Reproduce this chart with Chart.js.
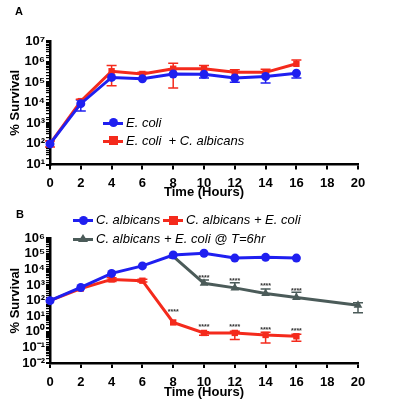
<!DOCTYPE html>
<html lang="en">
<head>
    <meta charset="UTF-8">
    <title>% Survival</title>
    <script src="https://cdn.jsdelivr.net/npm/chart.js"></script>
    <style>
        body {
            margin: 0;
            background: #fff;
            font-family: "Liberation Sans", Arial, sans-serif;
        }
        #page {
            position: relative;
            width: 400px;
            height: 410px;
            overflow: hidden;
        }
        canvas {
            position: absolute;
            left: 0;
        }
        .panel {
            position: absolute;
            font-weight: bold;
            font-size: 11px;
        }
        .row {
            position: absolute;
            height: 16px;
            line-height: 16px;
            font-size: 13px;
            font-style: italic;
            white-space: pre;
        }
        .sym {
            position: absolute;
            width: 20px;
            height: 3px;
            top: 7px;
        }
        .sym i {
            position: absolute;
            left: 5.5px;
            top: -3.5px;
            width: 9px;
            height: 9px;
        }
        .circle i { border-radius: 50%; }
        .tri i {
            width: 0;
            height: 0;
            background: none !important;
            left: 5px;
            top: -4px;
            border-left: 5px solid transparent;
            border-right: 5px solid transparent;
            border-bottom: 8px solid;
        }
        .txt {
            position: absolute;
            top: 0;
        }
    </style>
</head>
<body>
<div id="page">
    <canvas id="chartA" width="400" height="200" style="top:0"></canvas>
    <canvas id="chartB" width="400" height="210" style="top:200px"></canvas>
    <div class="panel" style="left:15px;top:5px">A</div>
    <div class="panel" style="left:16px;top:208px">B</div>
    <div id="legends"></div>
</div>

<script>
    // panel A
    const hoursA = [0, 2, 4, 6, 8, 10, 12, 14, 16];
    const eColi    = [100, 9000, 170000, 145000, 250000, 240000, 160000, 190000, 270000];
    const eColiLo  = [null, 4000, null, null, null, 160000, 100000, 90000, 160000];
    const eColiHi  = [null, 13500, null, null, null, null, null, null, null];
    const eColiCa   = [100, 12000, 340000, 250000, 450000, 450000, 300000, 300000, 780000];
    const eColiCaLo = [70, null, 67000, null, 52000, null, null, null, null];
    const eColiCaHi = [140, 15000, 650000, 300000, 830000, 650000, 400000, 420000, 1200000];

    // panel B
    const hoursB = [0, 2, 4, 6, 8, 10, 12, 14, 16];
    const cAlb     = [100, 700, 5600, 17000, 85000, 110000, 54000, 60000, 54000];
    const cAlbEc   = [100, 600, 2300, 1900, 4, 0.85, 0.85, 0.63, 0.52];
    const cAlbEcLo = [null, null, 1700, 1600, null, 0.6, 0.32, 0.19, 0.25];
    const cAlbEcHi = [null, null, 3000, 2400, null, 1.0, 1.1, 0.95, 0.7];
    const cAlbEcStars = [null, null, null, null, 27, 2.6, 2.6, 1.8, 1.6];
    const hoursLate = [8, 10, 12, 14, 16, 20];
    const cAlbLate     = [70000, 1300, 660, 290, 160, 51];
    const cAlbLateLo   = [null, null, null, null, null, 17];
    const cAlbLateHi   = [null, 2100, 1400, 550, 340, 72];
    const cAlbLateStars = [null, 4000, 2300, 1100, 520, null];

    const xTicks = [0, 2, 4, 6, 8, 10, 12, 14, 16, 18, 20];

    const BLUE = '#1f1ff0';
    const RED = '#f42a1c';
    const GRAY = '#4b5b59';

    const sup = { '0': '⁰', '1': '¹', '2': '²', '3': '³', '4': '⁴', '5': '⁵', '6': '⁶', '7': '⁷', '8': '⁸', '9': '⁹', '-': '⁻' };
    const powLabel = (v) => {
        const e = Math.log10(v);
        if (Math.abs(e - Math.round(e)) > 1e-6) return '';
        return '10' + String(Math.round(e)).split('').map(c => sup[c]).join('');
    };

    const pts = (xs, ys) => xs.map((x, i) => ({ x: x, y: ys[i] }));

    const series = (label, xs, ys, lo, hi, color, style, stars) => ({
        label: label,
        data: pts(xs, ys),
        errLo: lo,
        errHi: hi,
        stars: stars,
        borderColor: color,
        backgroundColor: color,
        borderWidth: 3,
        pointStyle: style,
        pointRadius: style === 'triangle' ? 5 : 4.5,
        pointBorderWidth: 0,
        tension: 0,
        clip: false
    });

    // error bars and significance stars, drawn from the chart's own scales
    const errorBars = {
        id: 'errorBars',
        beforeDatasetsDraw(chart) {
            const ctx = chart.ctx;
            const yS = chart.scales.y;
            chart.data.datasets.forEach((ds, i) => {
                if (!ds.errLo) return;
                const meta = chart.getDatasetMeta(i);
                ctx.save();
                ctx.strokeStyle = ds.borderColor;
                ctx.lineWidth = 1.5;
                meta.data.forEach((pt, j) => {
                    const lo = ds.errLo[j], hi = ds.errHi[j];
                    if (lo == null && hi == null) return;
                    const y0 = pt.y;
                    ctx.beginPath();
                    if (lo != null) {
                        const y1 = yS.getPixelForValue(lo);
                        ctx.moveTo(pt.x, y0); ctx.lineTo(pt.x, y1);
                        ctx.moveTo(pt.x - 5, y1); ctx.lineTo(pt.x + 5, y1);
                    }
                    if (hi != null) {
                        const y2 = yS.getPixelForValue(hi);
                        ctx.moveTo(pt.x, y0); ctx.lineTo(pt.x, y2);
                        ctx.moveTo(pt.x - 5, y2); ctx.lineTo(pt.x + 5, y2);
                    }
                    ctx.stroke();
                });
                ctx.restore();
            });
        },
        afterDatasetsDraw(chart) {
            const ctx = chart.ctx;
            const yS = chart.scales.y;
            chart.data.datasets.forEach((ds, i) => {
                if (!ds.stars) return;
                const meta = chart.getDatasetMeta(i);
                ctx.save();
                ctx.fillStyle = '#333';
                ctx.font = 'bold 7px "Liberation Sans", Arial, sans-serif';
                ctx.textAlign = 'center';
                ctx.textBaseline = 'alphabetic';
                meta.data.forEach((pt, j) => {
                    if (ds.stars[j] == null) return;
                    ctx.fillText('****', pt.x, yS.getPixelForValue(ds.stars[j]) + 4);
                });
                ctx.restore();
            });
        }
    };

    const tickFont = { family: '"Liberation Sans", Arial, sans-serif', size: 13, weight: 'bold' };
    const titleFont = { family: '"Liberation Sans", Arial, sans-serif', size: 13, weight: 'bold' };

    const makeOptions = (yMin, yMax, padTop, xHeight, xPad, titlePadBottom) => ({
        responsive: false,
        animation: false,
        layout: { padding: { top: padTop, right: 42, left: 0, bottom: 0 } },
        plugins: { legend: { display: false }, tooltip: { enabled: false } },
        scales: {
            x: {
                type: 'linear',
                min: 0,
                max: 20,
                afterFit: (s) => { s.height = xHeight; },
                afterBuildTicks: (s) => { s.ticks = xTicks.map(v => ({ value: v })); },
                border: { color: '#000', width: 2.5 },
                grid: { drawOnChartArea: false, drawTicks: true, tickLength: 5, color: '#000', lineWidth: 2 },
                ticks: { font: tickFont, color: '#000', padding: xPad, maxRotation: 0 },
                title: { display: true, text: 'Time (Hours)', font: titleFont, color: '#000', padding: { top: 0, bottom: titlePadBottom } }
            },
            y: {
                type: 'logarithmic',
                min: yMin,
                max: yMax,
                afterFit: (s) => { s.width = 50; },
                border: { color: '#000', width: 2.5 },
                grid: {
                    drawOnChartArea: false,
                    drawTicks: true,
                    tickLength: 4,
                    color: '#000',
                    lineWidth: (c) => (c.tick && powLabel(c.tick.value) ? 2 : 1.2)
                },
                ticks: { font: tickFont, color: '#000', padding: 1, autoSkip: false, callback: (v) => powLabel(v) },
                title: { display: true, text: '% Survival', font: titleFont, color: '#000', padding: { top: 8, bottom: 0 } }
            }
        }
    });

    new Chart(document.getElementById('chartA'), {
        type: 'line',
        data: {
            datasets: [
                series('E. coli', hoursA, eColi, eColiLo, eColiHi, BLUE, 'circle'),
                series('E. coli  + C. albicans', hoursA, eColiCa, eColiCaLo, eColiCaHi, RED, 'rect')
            ]
        },
        options: makeOptions(10, 1e7, 41, 35.5, 6, 0),
        plugins: [errorBars]
    });

    new Chart(document.getElementById('chartB'), {
        type: 'line',
        data: {
            datasets: [
                series('C. albicans', hoursB, cAlb, null, null, BLUE, 'circle'),
                series('C. albicans + E. coli', hoursB, cAlbEc, cAlbEcLo, cAlbEcHi, RED, 'rect', cAlbEcStars),
                series('C. albicans + E. coli @ T=6hr', hoursLate, cAlbLate, cAlbLateLo, cAlbLateHi, GRAY, 'triangle', cAlbLateStars)
            ]
        },
        options: makeOptions(0.01, 1e6, 38.3, 47, 7, 9.5),
        plugins: [errorBars]
    });

    // legends, placed as in the figure
    const legendRows = [
        { text: 'E. coli', color: BLUE, shape: 'circle', x: 103, y: 122.5 },
        { text: 'E. coli  + C. albicans', color: RED, shape: 'rect', x: 103, y: 140.5 },
        { text: 'C. albicans', color: BLUE, shape: 'circle', x: 73, y: 220 },
        { text: 'C. albicans + E. coli', color: RED, shape: 'rect', x: 163, y: 220 },
        { text: 'C. albicans + E. coli @ T=6hr', color: GRAY, shape: 'tri', x: 73, y: 238.5 }
    ];
    const host = document.getElementById('legends');
    legendRows.forEach(r => {
        const row = document.createElement('div');
        row.className = 'row';
        row.style.left = r.x + 'px';
        row.style.top = (r.y - 8) + 'px';
        row.innerHTML = '<span class="sym ' + r.shape + '" style="background:' + r.color + ';color:' + r.color + '">' +
            '<i style="background:' + r.color + '"></i></span>' +
            '<span class="txt" style="left:23px">' + r.text + '</span>';
        host.appendChild(row);
    });
</script>
</body>
</html>
